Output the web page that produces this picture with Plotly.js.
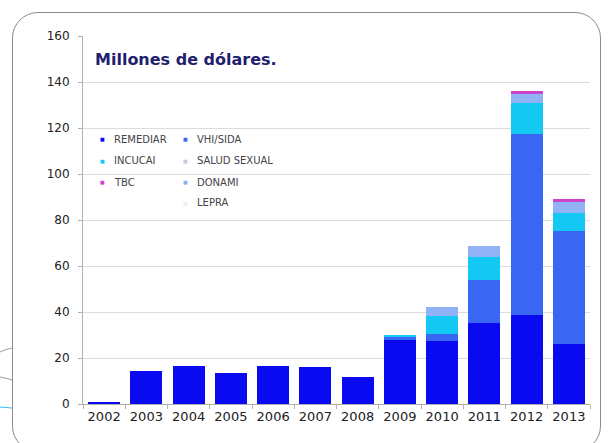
<!DOCTYPE html>
<html>
<head>
<meta charset="utf-8">
<script src="https://cdn.plot.ly/plotly-3.0.1.min.js"></script>
<style>
  html, body { margin: 0; padding: 0; background: #ffffff; }
  #wrap { position: relative; width: 609px; height: 443px; overflow: hidden; }
  #frame { position: absolute; left: 12px; top: 12px; width: 589px; height: 440px;
           border: 1px solid #8c8c8c; border-radius: 26px; box-sizing: border-box; }
  #deco { position: absolute; left: 0; top: 0; }
  #chart { position: absolute; left: 0; top: 0; width: 609px; height: 443px; }
</style>
</head>
<body>
<div id="wrap">
  <div id="frame"></div>
  <svg id="deco" width="609" height="443">
    <path d="M0,352 Q6,349 12,348" stroke="#9a9a9a" stroke-width="1" fill="none"/>
    <path d="M0,377 Q6,378 12,380" stroke="#9a9a9a" stroke-width="1" fill="none"/>
    <path d="M0,407 L12,408" stroke="#33bbee" stroke-width="1" fill="none"/>
  </svg>
  <div id="chart"></div>
</div>
<script>
// ---- data (millones de dólares) ----
const years = ['2002','2003','2004','2005','2006','2007','2008','2009','2010','2011','2012','2013'];
const remediar    = [1.0, 14.5, 16.5, 13.3, 16.5, 16.2, 11.9, 28.0, 27.3, 35.1, 38.7, 26.0];
const vhiSida     = [0, 0, 0, 0, 0, 0, 0, 1.0, 3.3, 18.8, 78.7, 49.2];
const incucai     = [0, 0, 0, 0, 0, 0, 0, 1.0, 7.6, 10.1, 13.3, 7.7];
const saludSexual = [0, 0, 0, 0, 0, 0, 0, 0, 0, 0, 0, 0];
const donami      = [0, 0, 0, 0, 0, 0, 0, 0, 3.8, 4.8, 4.2, 5.1];
const lepra       = [0, 0, 0, 0, 0, 0, 0, 0, 0, 0, 0, 0];
const tbc         = [0, 0, 0, 0, 0, 0, 0, 0, 0, 0, 1.1, 1.0];
const yTicks = [0, 20, 40, 60, 80, 100, 120, 140, 160];

const seriesNames  = ['REMEDIAR', 'VHI/SIDA', 'INCUCAI', 'SALUD SEXUAL', 'DONAMI', 'LEPRA', 'TBC'];
const seriesValues = [remediar, vhiSida, incucai, saludSexual, donami, lepra, tbc];
const seriesColors = ['#0a0af0', '#3a66f4', '#14c8f4', '#c2cadc', '#92b2f6', '#e8eef8', '#cc44cc'];

const traces = seriesNames.map((n, i) => ({
  type: 'bar', name: n, x: years, y: seriesValues[i],
  marker: { color: seriesColors[i], line: { width: 0 } },
  showlegend: false, hoverinfo: 'x+y+name'
}));

// custom two-column legend (as in the original)
const legendCols = [
  ['REMEDIAR', 'INCUCAI', 'TBC'],
  ['VHI/SIDA', 'SALUD SEXUAL', 'DONAMI', 'LEPRA']
];
const colDotX = [0.039, 0.203];
const rowY = [115.2, 105.7, 96.5, 87.4];
const annotations = [{
  text: '<b>Millones de dólares.</b>', xref: 'paper', yref: 'y', x: 0.02, y: 150,
  xanchor: 'left', yanchor: 'middle', showarrow: false,
  font: { family: 'DejaVu Sans, Verdana, sans-serif', size: 16, color: '#1f1f6e' }
}];
legendCols.forEach((col, c) => {
  col.forEach((name, r) => {
    const idx = seriesNames.indexOf(name);
    annotations.push({
      text: '■', xref: 'paper', yref: 'y', x: colDotX[c], y: rowY[r],
      xanchor: 'center', yanchor: 'middle', showarrow: false,
      font: { family: 'DejaVu Sans, sans-serif', size: 5, color: seriesColors[idx] }
    });
    annotations.push({
      text: name, xref: 'paper', yref: 'y', x: colDotX[c] + 0.018, y: rowY[r],
      xanchor: 'left', yanchor: 'middle', showarrow: false,
      font: { family: 'DejaVu Sans, Verdana, sans-serif', size: 10, color: '#444444' }
    });
  });
});

const layout = {
  width: 609, height: 443,
  margin: { l: 83, r: 19, t: 36, b: 39, pad: 0 },
  paper_bgcolor: 'rgba(0,0,0,0)',
  plot_bgcolor: 'rgba(0,0,0,0)',
  barmode: 'stack',
  bargap: 0.24,
  showlegend: false,
  font: { family: 'DejaVu Sans, Verdana, sans-serif', color: '#222222' },
  xaxis: {
    type: 'category', tickson: 'boundaries', ticks: 'outside', ticklen: 4,
    tickcolor: '#b0b0b0', showline: true, linecolor: '#b0b0b0', linewidth: 1,
    showgrid: false, zeroline: false,
    tickfont: { size: 13, color: '#222222' }
  },
  yaxis: {
    range: [0, 160], tickvals: yTicks, ticktext: yTicks.map(String),
    ticks: 'outside', ticklen: 4, tickcolor: '#b0b0b0',
    showline: true, linecolor: '#b0b0b0', linewidth: 1,
    showgrid: true, gridcolor: '#dcdcdc', gridwidth: 1, zeroline: false,
    ticklabelstandoff: 6,
    tickfont: { size: 12, color: '#222222' }
  },
  annotations: annotations
};

Plotly.newPlot('chart', traces, layout, { displayModeBar: false, staticPlot: true });
</script>
</body>
</html>
